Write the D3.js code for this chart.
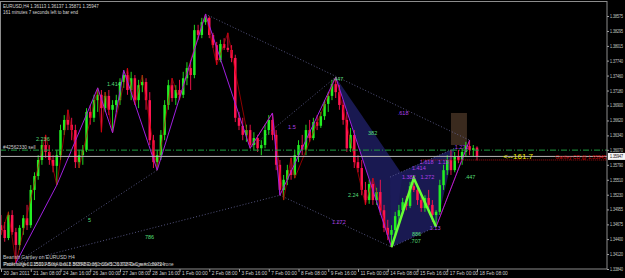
<!DOCTYPE html>
<html>
<head>
<meta charset="utf-8">
<script src="https://d3js.org/d3.v7.min.js"></script>
<style>
  body { margin: 0; background: #000; }
  text { font-family: "Liberation Sans", Arial, sans-serif; }
</style>
</head>
<body>
<svg id="chart" width="625" height="278"></svg>
<script>
// EURUSD H4 bars, 20 Jan 2011 -> 18 Feb 2011
const timeLabels = ["20 Jan 2011", "21 Jan 08:00", "24 Jan 16:00", "26 Jan 00:00", "27 Jan 08:00",
  "28 Jan 16:00", "1 Feb 00:00", "2 Feb 08:00", "3 Feb 16:00", "7 Feb 00:00", "8 Feb 08:00",
  "9 Feb 16:00", "11 Feb 00:00", "14 Feb 08:00", "15 Feb 16:00", "17 Feb 00:00", "18 Feb 08:00"];
const timeLabelBars = [0, 8, 16, 24, 32, 40, 48, 56, 64, 72, 80, 88, 96, 104, 112, 120, 128];

const priceTicks = [1.38575, 1.38295, 1.38015, 1.37740, 1.37460, 1.37180, 1.36900, 1.36620, 1.36340,
  1.36070, 1.35790, 1.35510, 1.35230, 1.34955, 1.34675, 1.34400, 1.34120, 1.33840];

const open = [1.3466,1.3457,1.3442,1.3485,1.3453,1.3429,1.3461,1.3479,1.3466,1.3532,
  1.3558,1.3588,1.3616,1.3603,1.3588,1.3577,1.3597,1.3644,1.3663,1.3654,
  1.3644,1.3584,1.3597,1.3607,1.3678,1.3667,1.3700,1.3710,1.3685,1.3708,
  1.3682,1.3691,1.3700,1.3734,1.3747,1.3719,1.3741,1.3700,1.3728,1.3734,
  1.3700,1.3625,1.3584,1.3597,1.3635,1.3691,1.3728,1.3704,1.3719,1.3710,
  1.3741,1.3760,1.3747,1.3831,1.3822,1.3846,1.3854,1.3822,1.3803,1.3775,
  1.3805,1.3798,1.3794,1.3779,1.3667,1.3652,1.3635,1.3644,1.3616,1.3629,
  1.3610,1.3616,1.3644,1.3663,1.3635,1.3579,1.3532,1.3551,1.3569,1.3560,
  1.3597,1.3616,1.3607,1.3644,1.3629,1.3659,1.3652,1.3670,1.3693,1.3708,
  1.3730,1.3715,1.3691,1.3663,1.3610,1.3635,1.3584,1.3573,1.3532,1.3513,
  1.3543,1.3513,1.3528,1.3494,1.3461,1.3448,1.3457,1.3483,1.3494,1.3509,
  1.3502,1.3539,1.3532,1.3513,1.3498,1.3517,1.3504,1.3485,1.3491,1.3541,
  1.3569,1.3588,1.3569,1.3595,1.3588,1.3603,1.3614,1.3607,1.36113];
const high = [1.3485,1.3472,1.3491,1.3494,1.3461,1.3466,1.3485,1.3504,1.3541,1.3565,
  1.3597,1.3625,1.3635,1.3616,1.3597,1.3607,1.3654,1.3672,1.3682,1.3667,
  1.3654,1.3607,1.3616,1.3685,1.3691,1.3710,1.3723,1.3719,1.3715,1.3719,
  1.3700,1.3710,1.3741,1.3756,1.3760,1.3753,1.3747,1.3738,1.3747,1.3741,
  1.3715,1.3635,1.3607,1.3644,1.3700,1.3738,1.3741,1.3728,1.3738,1.3753,
  1.3771,1.3775,1.3841,1.3841,1.3854,1.3861,1.3857,1.3826,1.3809,1.3813,
  1.3816,1.3826,1.3803,1.3785,1.3678,1.3667,1.3654,1.3654,1.3640,1.3635,
  1.3625,1.3654,1.3672,1.3676,1.3644,1.3588,1.3560,1.3579,1.3592,1.3607,
  1.3625,1.3635,1.3654,1.3663,1.3667,1.3672,1.3678,1.3700,1.3715,1.3738,
  1.3743,1.3728,1.3700,1.3678,1.3648,1.3644,1.3597,1.3588,1.3547,1.3551,
  1.3554,1.3536,1.3551,1.3504,1.3476,1.3466,1.3491,1.3504,1.3517,1.3521,
  1.3547,1.3554,1.3541,1.3522,1.3522,1.3532,1.3513,1.3494,1.3551,1.3579,
  1.3597,1.3607,1.3603,1.3607,1.3610,1.3622,1.3625,1.3616,1.36137];
const low = [1.3448,1.3435,1.3438,1.3448,1.3395,1.3420,1.3448,1.3457,1.3461,1.3513,
  1.3551,1.3579,1.3592,1.3579,1.3565,1.3541,1.3588,1.3635,1.3644,1.3625,
  1.3573,1.3573,1.3579,1.3603,1.3654,1.3659,1.3678,1.3640,1.3678,1.3672,
  1.3639,1.3678,1.3691,1.3723,1.3710,1.3700,1.3691,1.3685,1.3715,1.3682,
  1.3616,1.3573,1.3569,1.3588,1.3625,1.3682,1.3697,1.3691,1.3700,1.3704,
  1.3728,1.3719,1.3741,1.3813,1.3816,1.3841,1.3816,1.3798,1.3766,1.3771,
  1.3794,1.3790,1.3771,1.3659,1.3644,1.3625,1.3622,1.3610,1.3607,1.3603,
  1.3597,1.3610,1.3635,1.3625,1.3569,1.3522,1.3513,1.3541,1.3551,1.3554,
  1.3584,1.3597,1.3597,1.3622,1.3625,1.3644,1.3648,1.3663,1.3678,1.3700,
  1.3704,1.3682,1.3654,1.3603,1.3603,1.3573,1.3565,1.3522,1.3504,1.3506,
  1.3504,1.3504,1.3485,1.3453,1.3438,1.3425,1.3448,1.3472,1.3487,1.3494,
  1.3498,1.3528,1.3504,1.3491,1.3491,1.3491,1.3472,1.3463,1.3485,1.3532,
  1.3560,1.3560,1.3565,1.3582,1.3579,1.3595,1.3597,1.3595,1.35871];
const close = [1.3457,1.3442,1.3485,1.3453,1.3429,1.3461,1.3479,1.3466,1.3532,1.3558,
  1.3588,1.3616,1.3603,1.3588,1.3577,1.3597,1.3644,1.3663,1.3654,1.3644,
  1.3584,1.3597,1.3607,1.3678,1.3667,1.3700,1.3710,1.3685,1.3708,1.3682,
  1.3691,1.3700,1.3734,1.3747,1.3719,1.3741,1.3700,1.3728,1.3734,1.3700,
  1.3625,1.3584,1.3597,1.3635,1.3691,1.3728,1.3704,1.3719,1.3710,1.3741,
  1.3760,1.3747,1.3831,1.3822,1.3846,1.3854,1.3822,1.3803,1.3775,1.3805,
  1.3798,1.3794,1.3779,1.3667,1.3652,1.3635,1.3644,1.3616,1.3629,1.3610,
  1.3616,1.3644,1.3663,1.3635,1.3579,1.3532,1.3551,1.3569,1.3560,1.3597,
  1.3616,1.3607,1.3644,1.3629,1.3659,1.3652,1.3670,1.3693,1.3708,1.3730,
  1.3715,1.3691,1.3663,1.3610,1.3635,1.3584,1.3573,1.3532,1.3513,1.3543,
  1.3513,1.3528,1.3494,1.3461,1.3448,1.3457,1.3483,1.3494,1.3509,1.3502,
  1.3539,1.3532,1.3513,1.3498,1.3517,1.3504,1.3485,1.3491,1.3541,1.3569,
  1.3588,1.3569,1.3595,1.3588,1.3603,1.3614,1.3607,1.3610,1.35947];

// zigzag swing points (bar index, price)
const zigzagBars = [4, 15, 26, 30, 33, 42, 55, 67, 73, 75, 90, 105, 111, 117, 126];
const zigzagPrices = [1.3395, 1.3541, 1.3723, 1.3639, 1.3756, 1.3569, 1.3861, 1.3610, 1.3676, 1.3522, 1.3743, 1.3425, 1.3554, 1.3463, 1.3625];

const minorBars = [0, 2, 4, 12, 15, 18, 21, 26, 27, 28, 30, 34, 36, 38, 42, 46, 48, 51, 55, 58, 61, 67, 73, 76, 78, 79, 90, 98, 100, 105, 111, 117, 126];
const minorPrices = [1.3448, 1.3491, 1.3395, 1.3635, 1.3541, 1.3682, 1.3573, 1.3723, 1.3640, 1.3715, 1.3639, 1.3760, 1.3691, 1.3747, 1.3569, 1.3741, 1.3700, 1.3775, 1.3861, 1.3766, 1.3826, 1.3610, 1.3676, 1.3513, 1.3592, 1.3554, 1.3743, 1.3504, 1.3554, 1.3425, 1.3554, 1.3463, 1.3625];

// dotted ratio lines: [bar1, price1, bar2, price2]
const ratioLines = [
  [55, 1.3861, 126, 1.3625],
  [4, 1.3395, 42, 1.3569],
  [4, 1.3395, 75, 1.3522],
  [67, 1.3610, 90, 1.3743],
  [75, 1.3522, 105, 1.3425],
  [105, 1.3425, 117, 1.3463],
  [104.6, 1.3556, 122, 1.3610]
];

// Gartley triangles and legs
const triangleXAB = [[90, 1.3743], [108, 1.3560], [105, 1.3425]];
const triangleBCD = [[104.6, 1.3556], [122, 1.3610], [117, 1.3463], [105, 1.3425]];
const legBars = [105, 111, 117];
const legPrices = [1.3425, 1.3554, 1.3463];

const zoneBars = [121, 125.3];
const zonePrices = [1.3676, 1.3616];

const ratioLabels = [
  { text: "2.236", bar: 9.4, price: 1.3627, kind: "ret" },
  { text: "1.414", bar: 28.5, price: 1.3730, kind: "ret" },
  { text: "5", bar: 23.4, price: 1.3476, kind: "ret" },
  { text: "786", bar: 38.7, price: 1.3444, kind: "ret" },
  { text: ".447", bar: 89.2, price: 1.3740, kind: "ret" },
  { text: ".618", bar: 106.7, price: 1.3676, kind: "ext" },
  { text: "382", bar: 98.7, price: 1.3639, kind: "ret" },
  { text: "2.24", bar: 93.3, price: 1.3522, kind: "ret" },
  { text: "1.272", bar: 89, price: 1.3472, kind: "ext" },
  { text: "1.5", bar: 77.2, price: 1.3650, kind: "ext" },
  { text: "1.618", bar: 112.6, price: 1.3584, kind: "ext" },
  { text: "1.13", bar: 117.5, price: 1.3584, kind: "ext" },
  { text: "1.414", bar: 110.5, price: 1.3573, kind: "ext" },
  { text: "1.382", bar: 107.8, price: 1.3556, kind: "ext" },
  { text: "1.272", bar: 112.8, price: 1.3556, kind: "ext" },
  { text: "1.272", bar: 122, price: 1.3612, kind: "ext" },
  { text: "1.13", bar: 115.3, price: 1.3461, kind: "ext" },
  { text: ".447", bar: 124.7, price: 1.3556, kind: "ret" },
  { text: "886", bar: 110.5, price: 1.3449, kind: "ret" },
  { text: ".707", bar: 110, price: 1.3436, kind: "ret" }
];

const orderPrice = 1.36065;
const bidPrice = 1.35947;
const targetPrice = 1.35880;

const svg = d3.select("#chart");
const plotRight = 607, plotBottom = 269;

svg.append("rect").attr("width", 625).attr("height", 278).attr("fill", "#000");

const x = d3.scaleLinear().domain([0, 128]).range([1, 477]);
const y = d3.scaleLinear().domain([1.33840, 1.38575]).range([269, 16]);

const bars = open.map((o, i) => ({ i: i, o: o, h: high[i], l: low[i], c: close[i] }));

// background objects
const bg = svg.append("g");
bg.append("rect")
  .attr("x", x(zoneBars[0])).attr("y", y(zonePrices[0]))
  .attr("width", x(zoneBars[1]) - x(zoneBars[0]))
  .attr("height", y(zonePrices[1]) - y(zonePrices[0]))
  .attr("fill", "#3a2a1e");

const poly = d3.line().x(d => x(d[0])).y(d => y(d[1]));
[triangleXAB, triangleBCD].forEach(t => {
  bg.append("path").attr("d", poly(t) + "Z").attr("fill", "#1c1c5a").attr("opacity", 0.9);
});

// candles
const cg = svg.append("g");
const col = d => d.c >= d.o ? "#22ee22" : "#ff1450";
cg.selectAll("line.wick")
  .data(bars)
  .join("line")
  .attr("class", "wick")
  .attr("x1", d => x(d.i)).attr("x2", d => x(d.i))
  .attr("y1", d => y(d.h)).attr("y2", d => y(d.l))
  .attr("stroke", col).attr("stroke-width", 0.9);
cg.selectAll("rect.body")
  .data(bars)
  .join("rect")
  .attr("class", "body")
  .attr("x", d => x(d.i) - 1.25)
  .attr("width", 2.5)
  .attr("y", d => y(Math.max(d.o, d.c)))
  .attr("height", d => Math.max(1, Math.abs(y(d.o) - y(d.c))))
  .attr("fill", col);

// ratio lines and zigzags
const og = svg.append("g");
ratioLines.forEach(r => {
  og.append("line")
    .attr("x1", x(r[0])).attr("y1", y(r[1]))
    .attr("x2", x(r[2])).attr("y2", y(r[3]))
    .attr("stroke", "#6a6aa0").attr("stroke-width", 0.8)
    .attr("stroke-dasharray", "1,2");
});

const zz = d3.line().x(d => x(d[0])).y(d => y(d[1]));
og.append("path")
  .attr("d", zz(minorBars.map((b, i) => [b, minorPrices[i]])))
  .attr("fill", "none").attr("stroke", "#d00000").attr("stroke-width", 0.8).attr("opacity", 0.85);
og.append("path")
  .attr("d", zz(zigzagBars.map((b, i) => [b, zigzagPrices[i]])))
  .attr("fill", "none").attr("stroke", "#a020e0").attr("stroke-width", 1);
og.append("path")
  .attr("d", zz(legBars.map((b, i) => [b, legPrices[i]])))
  .attr("fill", "none").attr("stroke", "#66ff33").attr("stroke-width", 2.5);

// horizontal price lines
og.append("line").attr("x1", 0).attr("x2", plotRight)
  .attr("y1", y(orderPrice)).attr("y2", y(orderPrice))
  .attr("stroke", "#1e9e3e").attr("stroke-width", 1).attr("stroke-dasharray", "6,2,1,2");
og.append("line").attr("x1", 0).attr("x2", plotRight)
  .attr("y1", y(bidPrice)).attr("y2", y(bidPrice))
  .attr("stroke", "#b8b8b8").attr("stroke-width", 1);
og.append("line").attr("x1", x(113)).attr("x2", plotRight)
  .attr("y1", y(targetPrice)).attr("y2", y(targetPrice))
  .attr("stroke", "#a01010").attr("stroke-width", 1).attr("stroke-dasharray", "1,1");

og.append("text").attr("x", 3).attr("y", y(orderPrice) - 1.5)
  .attr("fill", "#d0d0d0").attr("font-size", 4.8).text("#42562330 sell");

og.selectAll("text.ratio")
  .data(ratioLabels)
  .join("text")
  .attr("class", "ratio")
  .attr("x", d => x(d.bar)).attr("y", d => y(d.price) + 2)
  .attr("font-size", 5.5)
  .attr("fill", d => d.kind === "ret" ? "#55dd77" : "#b040e8")
  .text(d => d.text);

og.append("text").attr("x", x(135)).attr("y", y(bidPrice) + 3)
  .attr("fill", "#e8e000").attr("font-size", 8).text("<--161.7");
og.append("text").attr("x", 606).attr("y", y(bidPrice) + 2.5).attr("text-anchor", "end")
  .attr("fill", "#d00000").attr("font-size", 5).text("Gartley CD @ 1.35945");

// frame
svg.append("rect").attr("x", 0.5).attr("y", 1.5)
  .attr("width", plotRight - 0.5).attr("height", plotBottom - 1.5)
  .attr("fill", "none").attr("stroke", "#8c8c8c").attr("stroke-width", 1);

// price axis
const yAxis = svg.append("g").attr("transform", `translate(${plotRight},0)`)
  .call(d3.axisRight(y).tickValues(priceTicks).tickSize(2).tickFormat(d3.format(".5f")));
yAxis.select(".domain").remove();
yAxis.selectAll("line").attr("stroke", "#a0a0a0");
yAxis.selectAll("text").attr("fill", "#cfcfcf").attr("font-size", 4.6).attr("x", 3)
  .attr("textLength", 13).attr("lengthAdjust", "spacingAndGlyphs")
  .attr("font-family", "Liberation Sans, Arial, sans-serif");

// current bid box
svg.append("rect").attr("x", 608).attr("y", y(bidPrice) - 3.5).attr("width", 17).attr("height", 7).attr("fill", "#f4f4f4");
svg.append("text").attr("x", 610).attr("y", y(bidPrice) + 1.8)
  .attr("font-size", 4.6).attr("fill", "#000")
  .attr("textLength", 13).attr("lengthAdjust", "spacingAndGlyphs").text("1.35947");

// time axis
const xAxis = svg.append("g").attr("transform", `translate(0,${plotBottom})`)
  .call(d3.axisBottom(x).tickValues(timeLabelBars).tickSize(3).tickFormat((d, i) => timeLabels[i]));
xAxis.select(".domain").remove();
xAxis.selectAll("line").attr("stroke", "#a0a0a0");
xAxis.selectAll("text").attr("fill", "#cfcfcf").attr("font-size", 4.8)
  .attr("text-anchor", "start").attr("x", 2).attr("y", 3).attr("dy", "0.71em")
  .attr("font-family", "Liberation Sans, Arial, sans-serif");

// header and footer texts
svg.append("text").attr("x", 3).attr("y", 7.5).attr("fill", "#d8d8d8").attr("font-size", 4.5)
  .text("EURUSD,H4  1.36113 1.36137 1.35871 1.35947");
svg.append("text").attr("x", 3).attr("y", 13.5).attr("fill", "#d8d8d8").attr("font-size", 4.5)
  .text("161 minutes 7 seconds left to bar end");
svg.append("text").attr("x", 3).attr("y", 259).attr("fill", "#c8c8c8").attr("font-size", 5)
  .text("Bearish Gartley on EURUSD H4");
svg.append("text").attr("x", 3).attr("y", 266).attr("fill", "#c8c8c8").attr("font-size", 4.7)
  .text("Pattern XA 0.01560 AB/XA 0.618 BC/AB 0.382 CD/BC 1.618 D-C ratio check zone");
svg.append("text").attr("x", 4).attr("y", 266).attr("fill", "#c8c8c8").attr("font-size", 4.7)
  .text("Profit target 1.35210 Stop loss 1.36850 Entry zone 1.36070 Range = 0.00724");
</script>
</body>
</html>
